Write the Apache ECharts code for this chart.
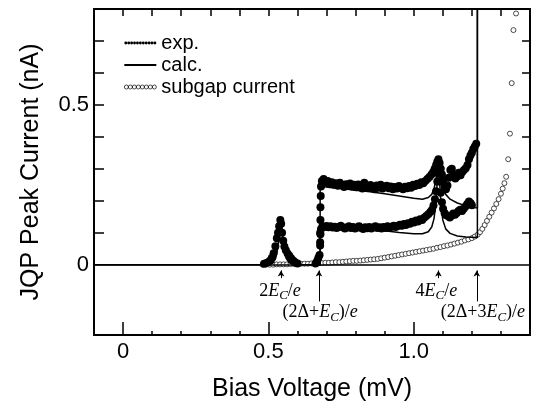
<!DOCTYPE html>
<html>
<head>
<meta charset="utf-8">
<script src="https://cdn.jsdelivr.net/npm/echarts@6/dist/echarts.min.js"></script>
<style>
  html, body { margin: 0; padding: 0; background: #fff; }
  #chart { width: 536px; height: 412px; }
</style>
</head>
<body>
<div id="chart"></div>
<script>
// axis ranges and ticks
const xMin = -0.1, xMax = 1.4;
const yMin = -0.22, yMax = 0.8;
const xLabelValues = [0, 0.5, 1.0];
const xMajorTicks = [0, 0.5, 1.0];
const xMinorTicks = [0.1, 0.2, 0.3, 0.4, 0.6, 0.7, 0.8, 0.9, 1.1, 1.2, 1.3];
const xTopTicks = [0, 0.1, 0.2, 0.3, 0.4, 0.5, 0.6, 0.7, 0.8, 0.9, 1.0, 1.1, 1.2, 1.3];
const yLabelValues = [0, 0.5];
const yTicks = [0.1, 0.2, 0.3, 0.4, 0.5, 0.6, 0.7];

// exp. data, branch with the 2Ec peak and upper plateau
const expUpper = [
  [0.485,0.003],[0.495,0.006],[0.505,0.012],[0.512,0.022],[0.518,0.036],[0.524,0.058],[0.529,0.083],
  [0.533,0.1],[0.537,0.12],[0.541,0.14],[0.544,0.128],[0.547,0.1],[0.551,0.075],[0.555,0.057],
  [0.56,0.045],[0.566,0.035],[0.572,0.028],[0.578,0.02],[0.585,0.013],[0.592,0.008],[0.6,0.004],
  [0.662,0.004],[0.668,0.012],[0.672,0.022],[0.676,0.03],[0.678,0.06],[0.678,0.1],[0.679,0.14],
  [0.679,0.18],[0.68,0.215],[0.681,0.245],[0.684,0.262],
  [0.69,0.268],[0.697,0.258],[0.704,0.262],[0.711,0.252],[0.718,0.258],[0.725,0.25],[0.732,0.255],
  [0.739,0.247],[0.746,0.256],[0.753,0.249],[0.76,0.243],[0.767,0.252],[0.774,0.246],[0.781,0.254],
  [0.788,0.245],[0.795,0.25],[0.802,0.242],[0.809,0.251],[0.816,0.245],[0.823,0.238],[0.83,0.256],
  [0.837,0.247],[0.844,0.24],[0.851,0.249],[0.858,0.243],[0.865,0.236],[0.872,0.248],[0.879,0.241],
  [0.886,0.25],[0.893,0.238],[0.9,0.244],[0.907,0.247],[0.914,0.239],[0.921,0.245],[0.928,0.236],
  [0.935,0.243],[0.942,0.238],[0.949,0.246],[0.956,0.24],[0.963,0.236],[0.97,0.244],[0.977,0.239],
  [0.984,0.246],[0.991,0.241],[0.998,0.25],[1.005,0.246],[1.012,0.253],[1.019,0.249],[1.026,0.258],
  [1.033,0.255],[1.04,0.262],[1.047,0.268],[1.054,0.274],[1.061,0.282],[1.067,0.29],[1.072,0.3],
  [1.077,0.312],[1.081,0.322],[1.085,0.33],[1.089,0.318],[1.093,0.3],[1.097,0.282],[1.101,0.262],
  [1.106,0.245],[1.111,0.236],[1.116,0.248],[1.121,0.272],[1.126,0.296],[1.131,0.3],[1.137,0.282],
  [1.143,0.27],[1.149,0.276],[1.155,0.288],[1.161,0.28],[1.167,0.29],[1.173,0.296],[1.179,0.302],
  [1.185,0.312],[1.19,0.33],[1.195,0.342],[1.2,0.35],[1.205,0.362],[1.21,0.37],[1.215,0.378]
];

// exp. data, lower branch
const expLower = [
  [0.678,0.07],[0.679,0.095],[0.681,0.112],[0.686,0.12],[0.693,0.118],[0.7,0.121],[0.707,0.117],
  [0.714,0.12],[0.721,0.116],[0.728,0.119],[0.735,0.115],[0.742,0.118],[0.749,0.122],[0.756,0.117],
  [0.763,0.113],[0.77,0.116],[0.777,0.12],[0.784,0.115],[0.791,0.118],[0.798,0.113],[0.805,0.116],
  [0.812,0.12],[0.819,0.115],[0.826,0.112],[0.833,0.117],[0.84,0.114],[0.847,0.118],[0.854,0.113],
  [0.861,0.116],[0.868,0.12],[0.875,0.115],[0.882,0.117],[0.889,0.113],[0.896,0.118],[0.903,0.115],
  [0.91,0.12],[0.917,0.116],[0.924,0.119],[0.931,0.122],[0.938,0.118],[0.945,0.121],[0.952,0.125],
  [0.959,0.122],[0.966,0.127],[0.973,0.124],[0.98,0.13],[0.987,0.128],[0.994,0.134],[1.001,0.132],
  [1.008,0.138],[1.015,0.135],[1.022,0.142],[1.029,0.14],[1.036,0.147],[1.043,0.152],[1.05,0.158],
  [1.057,0.165],[1.063,0.172],[1.068,0.185],[1.073,0.205],[1.077,0.23],[1.081,0.26],[1.085,0.285],
  [1.089,0.26],[1.093,0.225],[1.097,0.195],[1.101,0.175],[1.106,0.162],[1.112,0.155],[1.118,0.152],
  [1.124,0.148],[1.13,0.153],[1.136,0.16],[1.142,0.156],[1.148,0.162],[1.154,0.168],[1.16,0.172],
  [1.166,0.168],[1.172,0.175],[1.178,0.182],[1.184,0.19],[1.19,0.198],[1.196,0.192],[1.2,0.186]
];

// calc. curves
const calcUpper = [
  [-0.1,0],[0.5,0],[0.515,0.005],[0.525,0.02],[0.533,0.055],[0.539,0.11],[0.543,0.13],[0.547,0.11],
  [0.553,0.055],[0.561,0.02],[0.572,0.006],[0.59,0],[0.678,0],[0.678,0.245],[0.7,0.243],[0.75,0.238],
  [0.8,0.233],[0.85,0.228],[0.9,0.222],[0.95,0.215],[1.0,0.208],[1.03,0.205],[1.05,0.21],[1.062,0.22],
  [1.07,0.238],[1.076,0.265],[1.081,0.3],[1.085,0.318],[1.089,0.3],[1.094,0.265],[1.1,0.24],
  [1.11,0.22],[1.125,0.205],[1.15,0.193],[1.18,0.184],[1.219,0.177],[1.219,0.9]
];
const calcLower = [
  [0.678,0],[0.678,0.125],[0.7,0.123],[0.75,0.119],[0.8,0.115],[0.85,0.111],[0.9,0.106],[0.95,0.101],
  [1.0,0.097],[1.03,0.097],[1.05,0.103],[1.062,0.118],[1.07,0.145],[1.076,0.19],[1.081,0.26],
  [1.085,0.318],[1.089,0.26],[1.094,0.185],[1.1,0.14],[1.11,0.112],[1.125,0.098],[1.15,0.09],
  [1.18,0.087],[1.219,0.085],[1.219,0.9]
];

// subgap current
const subgap = [
  [0.48,0],[0.492,0],[0.504,0],[0.516,0],[0.528,0.001],[0.54,0.001],[0.552,0.001],[0.564,0.001],
  [0.576,0.002],[0.588,0.002],[0.6,0.002],[0.612,0.003],[0.624,0.003],[0.636,0.003],[0.648,0.004],
  [0.66,0.004],[0.672,0.005],[0.684,0.005],[0.696,0.006],[0.708,0.006],[0.72,0.007],[0.732,0.008],
  [0.744,0.008],[0.756,0.009],[0.768,0.01],[0.78,0.011],[0.792,0.012],[0.804,0.012],[0.816,0.013],
  [0.828,0.014],[0.84,0.015],[0.852,0.016],[0.864,0.017],[0.876,0.018],[0.888,0.02],[0.9,0.022],
  [0.912,0.024],[0.924,0.026],[0.936,0.028],[0.948,0.03],[0.96,0.032],[0.972,0.034],[0.984,0.036],
  [0.996,0.038],[1.008,0.04],[1.02,0.042],[1.032,0.044],[1.044,0.046],[1.056,0.048],[1.068,0.05],
  [1.08,0.053],[1.092,0.055],[1.104,0.058],[1.116,0.06],[1.128,0.063],[1.14,0.066],[1.152,0.069],
  [1.164,0.072],[1.176,0.076],[1.188,0.079],[1.2,0.083],[1.21,0.088],[1.22,0.094],[1.228,0.102],
  [1.236,0.112],[1.244,0.124],[1.252,0.137],[1.26,0.15],[1.268,0.163],[1.276,0.176],[1.284,0.19],
  [1.292,0.205],[1.3,0.222],[1.306,0.238],[1.312,0.255],[1.318,0.275],[1.325,0.33],[1.331,0.41],
  [1.337,0.568],[1.343,0.734],[1.352,0.786]
];

// threshold markers
const markerX = [0.5435, 0.674, 1.085, 1.217];
const markerLong = [false, true, false, true];
const markerText = [
  '{n|2}{i|E}{s|C}{n|/}{i|e}',
  '{n|(2Δ+}{i|E}{s|C}{n|)/}{i|e}',
  '{n|4}{i|E}{s|C}{n|/}{i|e}',
  '{n|(2Δ+3}{i|E}{s|C}{n|)/}{i|e}'
];
const markerTextX = [0.54, 0.678, 1.078, 1.238];

const serif = 'Liberation Serif';
const sans = 'Liberation Sans';

function dotsIcon(n, r, step) {
  let p = '';
  for (let i = 0; i < n; i++) {
    const cx = r + i * step;
    p += 'M' + (cx - r) + ',' + r + 'a' + r + ',' + r + ' 0 1,0 ' + (2 * r) + ',0' +
         'a' + r + ',' + r + ' 0 1,0 ' + (-2 * r) + ',0';
  }
  return 'path://' + p;
}

function fmt(v) {
  return Math.abs(v) < 1e-9 ? '0' : v.toFixed(1);
}

const frameLine = { onZero: false, lineStyle: { color: '#000', width: 2 } };

const chart = echarts.init(document.getElementById('chart'));

const option = {
  animation: false,
  backgroundColor: '#fff',
  grid: [
    { left: 94, right: 6, top: 9, bottom: 77 },
    { left: 94, right: 6, top: 9, bottom: 77 }
  ],
  legend: {
    orient: 'vertical',
    left: 119,
    top: 28,
    itemWidth: 32,
    itemHeight: 4,
    itemGap: 2,
    selectedMode: false,
    textStyle: { fontFamily: sans, fontSize: 20, lineHeight: 20, color: '#000' },
    data: [
      { name: 'exp.', icon: dotsIcon(11, 1.5, 3), itemStyle: { color: '#000', opacity: 1 } },
      { name: 'calc.', icon: 'path://M0,0H32V2H0Z', itemStyle: { color: '#000' } },
      { name: 'subgap current', icon: dotsIcon(8, 2, 4),
        itemStyle: { color: '#fff', borderColor: '#000', borderWidth: 0.7, opacity: 1 } }
    ]
  },
  xAxis: [
    {
      type: 'value', gridIndex: 0, position: 'bottom', min: xMin, max: xMax,
      axisLine: frameLine,
      axisTick: { inside: true, length: 4, customValues: xMinorTicks, lineStyle: { color: '#000', width: 1.5 } },
      axisLabel: { customValues: xLabelValues, formatter: fmt, fontFamily: sans, fontSize: 22, color: '#000', margin: 6 },
      splitLine: { show: false },
      name: 'Bias Voltage (mV)', nameLocation: 'middle', nameGap: 42,
      nameTextStyle: { fontFamily: sans, fontSize: 25, color: '#000' }
    },
    {
      type: 'value', gridIndex: 0, position: 'top', min: xMin, max: xMax,
      axisLine: frameLine,
      axisTick: { inside: true, length: 7, customValues: xTopTicks, lineStyle: { color: '#000', width: 1.5 } },
      axisLabel: { show: false },
      splitLine: { show: false }
    },
    {
      type: 'value', gridIndex: 1, position: 'bottom', min: xMin, max: xMax,
      axisLine: { show: false, onZero: false },
      axisTick: { inside: true, length: 13, customValues: xMajorTicks, lineStyle: { color: '#000', width: 1.5 } },
      axisLabel: { show: false },
      splitLine: { show: false }
    }
  ],
  yAxis: [
    {
      type: 'value', gridIndex: 0, position: 'left', min: yMin, max: yMax,
      axisLine: frameLine,
      axisTick: { inside: true, length: 10, customValues: yTicks, lineStyle: { color: '#000', width: 1.5 } },
      axisLabel: { customValues: yLabelValues, formatter: fmt, fontFamily: sans, fontSize: 22, color: '#000', margin: 5 },
      splitLine: { show: false },
      name: 'JQP Peak Current (nA)', nameLocation: 'middle', nameGap: 50,
      nameTextStyle: { fontFamily: sans, fontSize: 25, color: '#000' }
    },
    {
      type: 'value', gridIndex: 0, position: 'right', min: yMin, max: yMax,
      axisLine: frameLine,
      axisTick: { inside: true, length: 8, customValues: yTicks, lineStyle: { color: '#000', width: 1.5 } },
      axisLabel: { show: false },
      splitLine: { show: false }
    },
    {
      type: 'value', gridIndex: 1, min: yMin, max: yMax, show: false,
      axisLine: { onZero: false }
    }
  ],
  series: [
    {
      name: 'subgap current', type: 'scatter', xAxisIndex: 0, yAxisIndex: 0,
      data: subgap, symbol: 'circle', symbolSize: 5,
      itemStyle: { color: '#fff', borderColor: '#000', borderWidth: 0.7, opacity: 1 },
      markLine: {
        silent: true, symbol: ['none', 'arrow'], symbolSize: [5, 6],
        label: { show: false },
        lineStyle: { color: '#000', width: 1, type: 'solid' },
        data: markerX.map((x, i) => [
          { coord: [x, markerLong[i] ? -0.115 : -0.042] },
          { coord: [x, -0.018] }
        ])
      },
      markPoint: {
        silent: true, symbol: 'rect', symbolSize: 1,
        itemStyle: { color: 'rgba(0,0,0,0)' },
        label: {
          show: true, position: 'inside', color: '#000',
          rich: {
            n: { fontFamily: serif, fontSize: 18, color: '#000' },
            i: { fontFamily: serif, fontSize: 18, fontStyle: 'italic', color: '#000' },
            s: { fontFamily: serif, fontSize: 13, fontStyle: 'italic', color: '#000', padding: [9, 0, 0, 0] }
          }
        },
        data: markerTextX.map((x, i) => ({
          coord: [x, markerLong[i] ? -0.15 : -0.083],
          label: { formatter: markerText[i] }
        }))
      }
    },
    {
      name: 'calc.', type: 'line', xAxisIndex: 0, yAxisIndex: 0,
      data: calcUpper, showSymbol: false, symbol: 'none',
      lineStyle: { color: '#000', width: 1.5 }, itemStyle: { color: '#000' },
      markLine: {
        silent: true, symbol: 'none', label: { show: false },
        lineStyle: { color: '#000', width: 1.5, type: 'solid' },
        data: [{ yAxis: 0 }]
      }
    },
    {
      name: 'calc.', type: 'line', xAxisIndex: 0, yAxisIndex: 0,
      data: calcLower, showSymbol: false, symbol: 'none',
      lineStyle: { color: '#000', width: 1.5 }, itemStyle: { color: '#000' }
    },
    {
      name: 'exp.', type: 'scatter', xAxisIndex: 0, yAxisIndex: 0,
      data: expUpper, symbolSize: 8, itemStyle: { color: '#000', opacity: 1 }
    },
    {
      name: 'exp.', type: 'scatter', xAxisIndex: 0, yAxisIndex: 0,
      data: expLower, symbolSize: 8, itemStyle: { color: '#000', opacity: 1 }
    }
  ]
};

chart.setOption(option);
</script>
</body>
</html>
